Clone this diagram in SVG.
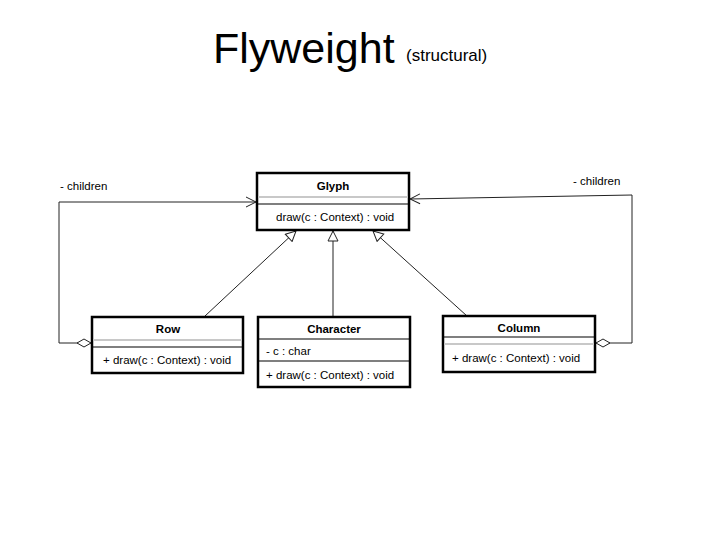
<svg xmlns="http://www.w3.org/2000/svg" width="720" height="540" viewBox="0 0 720 540">
<style>
.box{fill:#fff;stroke:#000;stroke-width:2.5}
.sep{stroke:#000;stroke-width:1.2}
.gsep{stroke:#c8c8c8;stroke-width:2}
.t{font-family:"Liberation Sans",Arial,sans-serif;font-size:11.5px;fill:#000}
.b{font-weight:bold;text-anchor:middle}
.c{fill:none;stroke:#222;stroke-width:1}
</style>
<defs>
<marker id="tri" viewBox="0 0 12 12" refX="11" refY="6" markerWidth="12" markerHeight="12" markerUnits="userSpaceOnUse" orient="auto">
<path d="M1,1 L11,6 L1,11 Z" fill="#fff" stroke="#222" stroke-width="1"/>
</marker>
<marker id="open" viewBox="0 0 12 12" refX="11" refY="6" markerWidth="12" markerHeight="12" markerUnits="userSpaceOnUse" orient="auto">
<path d="M1,1 L11,6 L1,11" fill="none" stroke="#222" stroke-width="1"/>
</marker>
<marker id="dia" viewBox="0 0 16 10" refX="1" refY="5" markerWidth="16" markerHeight="10" markerUnits="userSpaceOnUse" orient="auto">
<path d="M1,5 L8,1 L15,5 L8,9 Z" fill="#fff" stroke="#222" stroke-width="1"/>
</marker>
</defs>
<rect width="720" height="540" fill="#fff"/>
<g id="title">
<text x="213" y="63" font-family="Liberation Sans,Arial,sans-serif" font-size="43" fill="#000">Flyweight</text>
<text x="406" y="61" font-family="Liberation Sans,Arial,sans-serif" font-size="17" fill="#000">(structural)</text>
</g>
<g id="connectors">
<line class="c" x1="205" y1="316" x2="296" y2="231" marker-end="url(#tri)"/>
<line class="c" x1="333" y1="316" x2="333" y2="231" marker-end="url(#tri)"/>
<line class="c" x1="467" y1="316" x2="373" y2="231" marker-end="url(#tri)"/>
<polyline class="c" points="91,343 59,343 59,202 256,202" marker-start="url(#dia)" marker-end="url(#open)"/>
<polyline class="c" points="596,343 632,343 632,195 410,199" marker-start="url(#dia)" marker-end="url(#open)"/>
<text class="t" x="60" y="190">- children</text>
<text class="t" x="573" y="185">- children</text>
</g>
<g id="glyph">
<rect class="box" x="257" y="173" width="152" height="57"/>
<line class="gsep" x1="258" y1="197" x2="408" y2="197"/>
<line class="sep" x1="258" y1="204" x2="408" y2="204"/>
<text class="t b" x="333" y="190">Glyph</text>
<text class="t" x="276" y="221">draw(c : Context) : void</text>
</g>
<g id="row">
<rect class="box" x="92" y="317" width="151" height="56"/>
<line class="gsep" x1="93" y1="340" x2="242" y2="340"/>
<line class="sep" x1="93" y1="347" x2="242" y2="347"/>
<text class="t b" x="168" y="333">Row</text>
<text class="t" x="103" y="364">+ draw(c : Context) : void</text>
</g>
<g id="character">
<rect class="box" x="258" y="317" width="152" height="70"/>
<line class="sep" x1="259" y1="339" x2="409" y2="339"/>
<line class="sep" x1="259" y1="361" x2="409" y2="361"/>
<text class="t b" x="334" y="333">Character</text>
<text class="t" x="266" y="355">- c : char</text>
<text class="t" x="266" y="379">+ draw(c : Context) : void</text>
</g>
<g id="column">
<rect class="box" x="443" y="316" width="152" height="56"/>
<line class="sep" x1="444" y1="337" x2="594" y2="337"/>
<line class="gsep" x1="444" y1="344" x2="594" y2="344"/>
<text class="t b" x="519" y="332">Column</text>
<text class="t" x="452" y="362">+ draw(c : Context) : void</text>
</g>
</svg>
